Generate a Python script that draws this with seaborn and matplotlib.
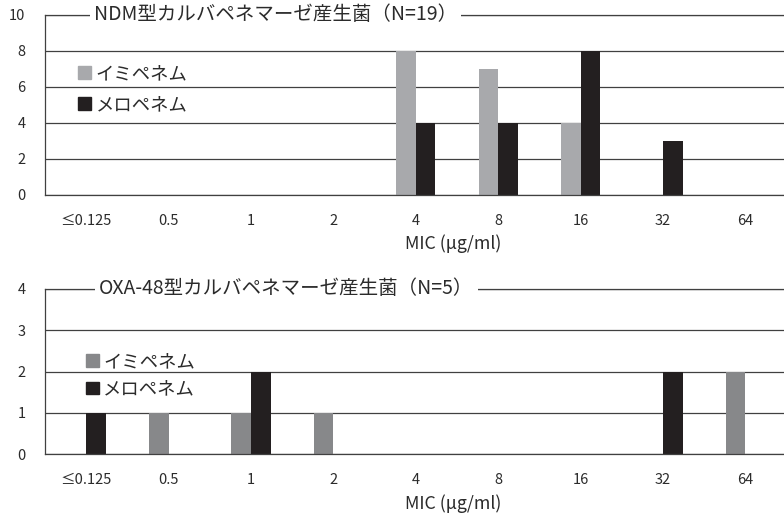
import numpy as np
import pandas as pd
import seaborn as sns
import matplotlib
matplotlib.use("Agg")
import matplotlib.pyplot as plt
from matplotlib.patches import Rectangle

mic = ["≤0.125", "0.5", "1", "2", "4", "8", "16", "32", "64"]
drugs = ["イミペネム", "メロペネム"]

ndm_ipm = [0, 0, 0, 0, 8, 7, 4, 0, 0]
ndm_mepm = [0, 0, 0, 0, 4, 4, 8, 3, 0]
oxa_ipm = [0, 1, 1, 1, 0, 0, 0, 0, 2]
oxa_mepm = [1, 0, 2, 0, 0, 0, 0, 2, 0]

titles = ["NDM型カルバペネマーゼ産生菌（N=19）", "OXA-48型カルバペネマーゼ産生菌（N=5）"]

sns.set_style("white")
plt.rcParams["font.family"] = ["Noto Sans CJK JP", "DejaVu Sans"]

txt = "#2b2b2b"
grid = "#404040"


def long_df(ipm, mepm):
    d = pd.DataFrame({"MIC": mic, drugs[0]: ipm, drugs[1]: mepm})
    return d.melt(id_vars="MIC", var_name="drug", value_name="n")


fig = plt.figure(figsize=(7.84, 5.19), dpi=100)
ax1 = fig.add_axes([0.0574, 0.6243, 0.946, 0.3468])
ax2 = fig.add_axes([0.0574, 0.1252, 0.946, 0.318])

# axes, data, colours, ymax, tick step, legend anchor, legend spacing, title x, xlabel y
panels = [
    (ax1, long_df(ndm_ipm, ndm_mepm), ["#a8a9ac", "#231f20"], 10, 2, (0.035, 0.762), 0.7, 0.066, -0.22, titles[0]),
    (ax2, long_df(oxa_ipm, oxa_mepm), ["#87888a", "#231f20"], 4, 1, (0.045, 0.655), 0.5, 0.073, -0.245, titles[1]),
]

for ax, df, pal, ymax, step, anchor, sp, tx, ly, title in panels:
    sns.barplot(data=df, x="MIC", y="n", hue="drug", order=mic, hue_order=drugs,
                palette=pal, width=0.475, linewidth=0, saturation=1, ax=ax, legend=False)
    ax.set_ylim(0, ymax)
    ax.set_xlim(-0.5, len(mic) - 0.5)
    ax.set_yticks(np.arange(0, ymax + 1, step))
    ax.set_axisbelow(True)
    ax.yaxis.grid(True, color=grid, linewidth=0.9)
    for s in ["left", "bottom", "top"]:
        ax.spines[s].set_color(grid)
        ax.spines[s].set_linewidth(0.9)
    ax.spines["right"].set_visible(False)
    ax.tick_params(axis="both", length=0, labelsize=10.5, labelcolor=txt)
    ax.tick_params(axis="x", pad=14)
    ax.tick_params(axis="y", pad=14)
    ax.set_ylabel("")
    ax.set_xlabel("MIC (μg/ml)", fontsize=12.8, color=txt)
    ax.xaxis.set_label_coords(0.55, ly)
    handles = [Rectangle((0, 0), 1, 1, color=c) for c in pal]
    ax.legend(handles, drugs, loc="upper left", bbox_to_anchor=anchor,
              frameon=False, fontsize=13.2, handlelength=0.7, handleheight=0.7,
              handletextpad=0.25, labelspacing=sp, borderaxespad=0, labelcolor=txt)
    ax.text(tx, 1.0, title, transform=ax.transAxes,
            ha="left", va="center", fontsize=14, color=txt,
            bbox=dict(facecolor="white", edgecolor="none", pad=3))

fig.savefig("out.png", dpi=100)
